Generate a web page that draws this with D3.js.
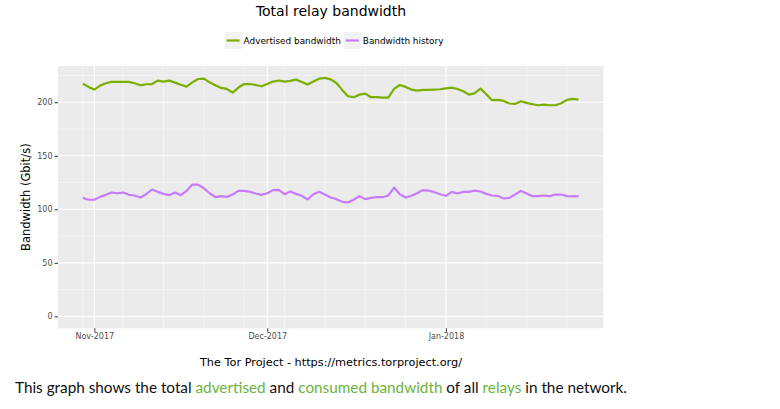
<!DOCTYPE html>
<html>
<head>
<meta charset="utf-8">
<script src="https://cdn.jsdelivr.net/npm/d3@7"></script>
<style>
  html, body { margin: 0; padding: 0; background: #fff; }
  svg { display: block; }
</style>
</head>
<body>
<svg id="chart" width="780" height="409"></svg>
<script>
// daily values, 2017-10-30 .. 2018-01-24 (Gbit/s)
const startDate = '2017-10-30';
const endDate = '2018-01-24';

const advertised = [
  217.4, 214.3, 211.8, 215.5, 217.7, 219.0, 219.0, 219.0, 219.0, 217.7,
  215.8, 216.8, 217.0, 220.2, 219.3, 220.2, 218.3, 216.4, 214.6, 218.5,
  221.7, 222.0, 218.6, 215.8, 213.4, 212.4, 209.0, 213.7, 217.0, 217.0,
  216.1, 214.9, 217.0, 219.3, 220.3, 219.3, 219.9, 221.1, 218.9, 216.5,
  219.3, 222.0, 222.7, 221.4, 218.0, 211.5, 205.6, 204.7, 207.1, 208.1,
  204.7, 204.7, 204.3, 204.3, 212.4, 216.1, 214.3, 211.8, 210.9, 211.5,
  211.5, 211.8, 212.1, 213.0, 213.7, 212.4, 210.2, 207.1, 208.4, 212.7,
  207.5, 201.9, 202.2, 201.2, 198.8, 198.4, 200.9, 199.4, 198.1, 197.2,
  197.8, 197.2, 197.2, 199.1, 202.2, 203.1, 202.5
];

const history = [
  110.7, 108.9, 108.9, 111.6, 113.5, 115.7, 115.0, 115.7, 113.5, 112.9,
  111.0, 114.1, 118.5, 116.3, 114.4, 113.2, 115.7, 113.2, 117.2, 123.1,
  123.1, 119.7, 115.0, 111.3, 112.3, 111.6, 113.8, 117.2, 117.2, 116.3,
  114.8, 113.5, 115.0, 117.9, 118.2, 114.1, 116.6, 114.4, 112.6, 109.2,
  114.1, 116.3, 113.8, 111.0, 109.5, 107.0, 106.4, 108.9, 112.3, 109.5,
  110.7, 111.3, 111.3, 112.9, 120.3, 114.1, 111.0, 112.6, 115.0, 117.9,
  117.5, 116.0, 114.1, 112.6, 116.3, 114.8, 116.3, 116.3, 117.5, 116.6,
  114.4, 112.9, 112.6, 110.1, 110.7, 113.8, 117.2, 114.8, 112.3, 112.3,
  112.9, 112.3, 113.8, 113.8, 112.3, 112.0, 112.3
];

const seriesNames = ['Advertised bandwidth', 'Bandwidth history'];
const seriesColors = ['#7CAE00', '#C77CFF'];
const monthTicks = ['2017-11-01', '2017-12-01', '2018-01-01'];
const yTicks = [0, 50, 100, 150, 200];
const yMinorTicks = [25, 75, 125, 175, 225];

const parse = d3.utcParse('%Y-%m-%d');
const days = d3.utcDay.range(parse(startDate), d3.utcDay.offset(parse(endDate), 1));
const series = [advertised, history].map((vals, k) => ({
  name: seriesNames[k],
  color: seriesColors[k],
  values: vals.map((v, i) => ({ date: days[i], value: v }))
}));

const svg = d3.select('#chart');
const panel = { left: 58, right: 603.3, top: 66, bottom: 328.3 };
const plotCenter = 331;

// ggplot-style 5% expansion
const t0 = days[0], t1 = days[days.length - 1];
const span = t1 - t0;
const x = d3.scaleUtc()
  .domain([new Date(+t0 - span * 0.05), new Date(+t1 + span * 0.05)])
  .range([panel.left, panel.right]);

const ymax = d3.max(advertised.concat(history));
const y = d3.scaleLinear()
  .domain([-ymax * 0.05, ymax * 1.05])
  .range([panel.bottom, panel.top]);

svg.append('rect')
  .attr('x', panel.left).attr('y', panel.top)
  .attr('width', panel.right - panel.left)
  .attr('height', panel.bottom - panel.top)
  .attr('fill', '#EBEBEB');

const grid = svg.append('g');
const weeks = d3.utcMonday.range(x.domain()[0], x.domain()[1]);

grid.selectAll('.ymin')
  .data(yMinorTicks)
  .enter().append('line')
  .attr('x1', panel.left).attr('x2', panel.right)
  .attr('y1', d => y(d)).attr('y2', d => y(d))
  .attr('stroke', '#fafafa').attr('stroke-width', 0.55);

grid.selectAll('.xmin')
  .data(weeks)
  .enter().append('line')
  .attr('y1', panel.top).attr('y2', panel.bottom)
  .attr('x1', d => x(d)).attr('x2', d => x(d))
  .attr('stroke', '#fafafa').attr('stroke-width', 0.55);

grid.selectAll('.ymaj')
  .data(yTicks)
  .enter().append('line')
  .attr('x1', panel.left).attr('x2', panel.right)
  .attr('y1', d => y(d)).attr('y2', d => y(d))
  .attr('stroke', '#fff').attr('stroke-width', 1.1);

grid.selectAll('.xmaj')
  .data(monthTicks.map(parse))
  .enter().append('line')
  .attr('y1', panel.top).attr('y2', panel.bottom)
  .attr('x1', d => x(d)).attr('x2', d => x(d))
  .attr('stroke', '#fff').attr('stroke-width', 1.1);

// axes
const yAxis = svg.append('g')
  .attr('transform', `translate(${panel.left},0)`)
  .call(d3.axisLeft(y).tickValues(yTicks).tickSize(3.5).tickPadding(2));
const xAxis = svg.append('g')
  .attr('transform', `translate(0,${panel.bottom})`)
  .call(d3.axisBottom(x).tickValues(monthTicks.map(parse))
    .tickFormat(d3.utcFormat('%b-%Y')).tickSize(3.5).tickPadding(2));

[yAxis, xAxis].forEach(a => {
  a.select('.domain').remove();
  a.selectAll('.tick line').attr('stroke', '#333').attr('stroke-width', 1);
  a.selectAll('.tick text')
    .attr('fill', '#4D4D4D')
    .style('font-family', 'DejaVu Sans')
    .style('font-size', '8px');
});

// lines
const line = d3.line()
  .x(d => x(d.date))
  .y(d => y(d.value));

svg.selectAll('.series')
  .data(series)
  .enter().append('path')
  .attr('d', d => line(d.values))
  .attr('fill', 'none')
  .attr('stroke', d => d.color)
  .attr('stroke-width', 2.2)
  .attr('stroke-linejoin', 'round');

// titles
svg.append('text')
  .attr('x', plotCenter).attr('y', 16)
  .attr('text-anchor', 'middle')
  .style('font-family', 'DejaVu Sans')
  .style('font-size', '14px')
  .text('Total relay bandwidth');

svg.append('text')
  .attr('transform', `translate(30,${(panel.top + panel.bottom) / 2}) rotate(-90)`)
  .attr('text-anchor', 'middle')
  .style('font-family', 'DejaVu Sans')
  .style('font-size', '11.5px')
  .text('Bandwidth (Gbit/s)');

svg.append('text')
  .attr('x', plotCenter).attr('y', 366)
  .attr('text-anchor', 'middle')
  .style('font-family', 'DejaVu Sans')
  .style('font-size', '11.3px')
  .text('The Tor Project - https://metrics.torproject.org/');

// legend
const legend = svg.append('g');
const keyW = 17, keyH = 17, legY = 32;
const items = legend.selectAll('.item')
  .data(series)
  .enter().append('g');

items.append('rect')
  .attr('width', keyW).attr('height', keyH)
  .attr('fill', '#F2F2F2');
items.append('line')
  .attr('x1', 2).attr('x2', keyW - 2)
  .attr('y1', keyH / 2).attr('y2', keyH / 2)
  .attr('stroke', d => d.color).attr('stroke-width', 2.2);
items.append('text')
  .attr('x', keyW + 2).attr('y', keyH / 2)
  .attr('dy', '0.35em')
  .style('font-family', 'DejaVu Sans')
  .style('font-size', '8.9px')
  .text(d => d.name);

const widths = [];
items.each(function () { widths.push(this.getBBox().width); });
const gap = 3;
const total = d3.sum(widths) + gap * (widths.length - 1);
let cx = plotCenter + 3 - total / 2;
items.attr('transform', (d, i) => {
  const tx = cx;
  cx += widths[i] + gap;
  return `translate(${tx},${legY})`;
});

// caption below the graph
const caption = svg.append('text')
  .attr('x', 15).attr('y', 393)
  .style('font-family', 'Lato')
  .style('font-size', '15.3px')
  .attr('fill', '#111');
const captionParts = [
  ['This graph shows the total ', null],
  ['advertised', '#6DB33F'],
  [' and ', null],
  ['consumed bandwidth', '#6DB33F'],
  [' of all ', null],
  ['relays', '#6DB33F'],
  [' in the network.', null]
];
captionParts.forEach(([t, c]) => {
  const ts = caption.append('tspan').text(t);
  if (c) ts.attr('fill', c);
});
</script>
</body>
</html>
